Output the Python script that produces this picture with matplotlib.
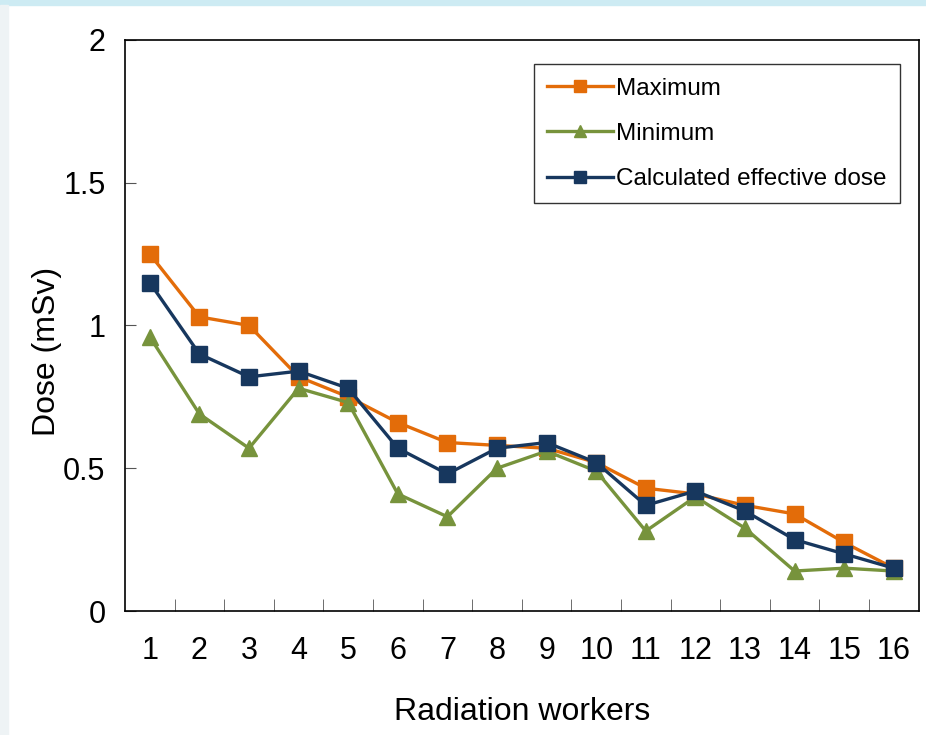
import numpy as np
import matplotlib.pyplot as plt
from matplotlib.patches import Rectangle

plt.rcParams['font.family'] = ['Liberation Sans', 'DejaVu Sans']

# data
workers = np.arange(1, 17)
maximum = [1.25, 1.03, 1.00, 0.82, 0.75, 0.66, 0.59, 0.58, 0.57, 0.52, 0.43, 0.41, 0.37, 0.34, 0.24, 0.15]
minimum = [0.96, 0.69, 0.57, 0.78, 0.73, 0.41, 0.33, 0.50, 0.56, 0.49, 0.28, 0.40, 0.29, 0.14, 0.15, 0.14]
calculated = [1.15, 0.90, 0.82, 0.84, 0.78, 0.57, 0.48, 0.57, 0.59, 0.52, 0.37, 0.42, 0.35, 0.25, 0.20, 0.15]

fig = plt.figure(figsize=(9.26, 7.35), dpi=100)
fig.patch.set_facecolor('white')
# light frame of the slide
fig.add_artist(Rectangle((0, 0.993), 1, 0.007, transform=fig.transFigure, color='#cdebf3', zorder=0))
fig.add_artist(Rectangle((0, 0), 0.009, 0.993, transform=fig.transFigure, color='#eef3f5', zorder=0))

ax = fig.add_axes([0.135, 0.1687, 0.857, 0.777])

ax.plot(workers, maximum, color='#E36C09', lw=2.4, marker='s', ms=11, label='Maximum')
ax.plot(workers, minimum, color='#77933C', lw=2.4, marker='^', ms=11, label='Minimum')
ax.plot(workers, calculated, color='#17375E', lw=2.4, marker='s', ms=11, label='Calculated effective dose')

ax.set_xlim(0.5, 16.5)
ax.set_ylim(0, 2)
ax.set_xticks(workers)
ax.set_xticks(np.arange(1.5, 16.5, 1), minor=True)
ax.set_yticks([0, 0.5, 1, 1.5, 2])
ax.set_yticklabels(['0', '0.5', '1', '1.5', '2'])
ax.tick_params(axis='x', which='major', length=0, pad=18, labelsize=22)
ax.tick_params(axis='x', which='minor', direction='in', length=9, color='#555555')
ax.tick_params(axis='y', direction='in', length=8, color='#555555', pad=14, labelsize=22)

ax.set_xlabel('Radiation workers', fontsize=23, labelpad=22)
ax.set_ylabel('Dose (mSv)', fontsize=23)
ax.yaxis.set_label_coords(-0.08, 0.455)

for spine in ax.spines.values():
    spine.set_linewidth(1.2)

leg = ax.legend(loc='upper right', bbox_to_anchor=(0.977, 0.957), fontsize=17.5,
                frameon=True, fancybox=False, edgecolor='black', handlelength=2.7,
                handletextpad=0.15, labelspacing=0.95, borderpad=0.55, markerscale=0.85,
                borderaxespad=0)
leg.get_frame().set_linewidth(1.0)

fig.savefig('out.png', dpi=100)
